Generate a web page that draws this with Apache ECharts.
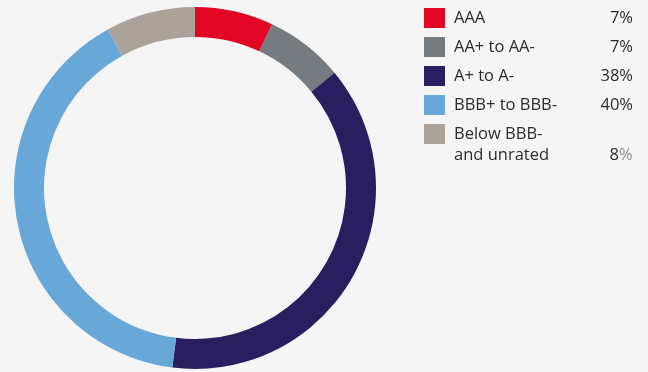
<!DOCTYPE html>
<html>
<head>
<meta charset="utf-8">
<script src="https://cdn.jsdelivr.net/npm/echarts@6/dist/echarts.min.js"></script>
<style>
  html, body { margin: 0; padding: 0; background: #f5f5f5; }
  #main { width: 648px; height: 372px; }
</style>
</head>
<body>
<div id="main"></div>
<script>
var categories = ['AAA', 'AA+ to AA-', 'A+ to A-', 'BBB+ to BBB-', 'Below BBB-\nand unrated'];
var values = [7, 7, 38, 40, 8];
var colors = ['#e30524', '#767b7f', '#291e5f', '#67a8d8', '#aba29a'];

var myChart = echarts.init(document.getElementById('main'));

var pieData = categories.map(function (c, i) {
    return { name: c, value: values[i], itemStyle: { color: colors[i] } };
});

var legendData = categories.map(function (c, i) {
    var item = { name: c };
    if (c.indexOf('\n') >= 0) {
        item.textStyle = { padding: [21, 0, 0, 0] };
    }
    return item;
});

var option = {
    backgroundColor: '#f5f5f5',
    legend: {
        orient: 'vertical',
        left: 424,
        top: 8,
        padding: 0,
        icon: 'rect',
        itemWidth: 21,
        itemHeight: 20,
        itemGap: 9,
        selectedMode: false,
        data: legendData,
        formatter: function (name) {
            var i = categories.indexOf(name);
            var lines = name.split('\n');
            var out = '';
            for (var k = 0; k < lines.length - 1; k++) {
                out += '{n|' + lines[k] + '}\n';
            }
            out += '{n|' + lines[lines.length - 1] + '}';
            if (i === categories.length - 1) {
                // the % on the last row is printed in a lighter grey
                out += '{p2|' + values[i] + '}{q|%}';
            } else {
                out += '{p|' + values[i] + '%}';
            }
            return out;
        },
        textStyle: {
            rich: {
                n: { fontFamily: 'Open Sans', fontSize: 16.5, color: '#2b2b2b', width: 139, padding: [0, 0, 0, 4], lineHeight: 21 },
                p: { fontFamily: 'Open Sans', fontSize: 16.5, color: '#2b2b2b', width: 40, align: 'right', lineHeight: 21 },
                p2: { fontFamily: 'Open Sans', fontSize: 16.5, color: '#2b2b2b', width: 26, align: 'right', lineHeight: 21 },
                q: { fontFamily: 'Open Sans', fontSize: 16.5, color: '#8a8a8a', align: 'right', lineHeight: 21 }
            }
        }
    },
    series: [
        {
            type: 'pie',
            center: [195, 188],
            radius: [151, 181],
            startAngle: 90,
            clockwise: true,
            label: { show: false },
            labelLine: { show: false },
            emphasis: { disabled: true },
            silent: true,
            data: pieData
        }
    ]
};
myChart.setOption(option);
</script>
</body>
</html>
